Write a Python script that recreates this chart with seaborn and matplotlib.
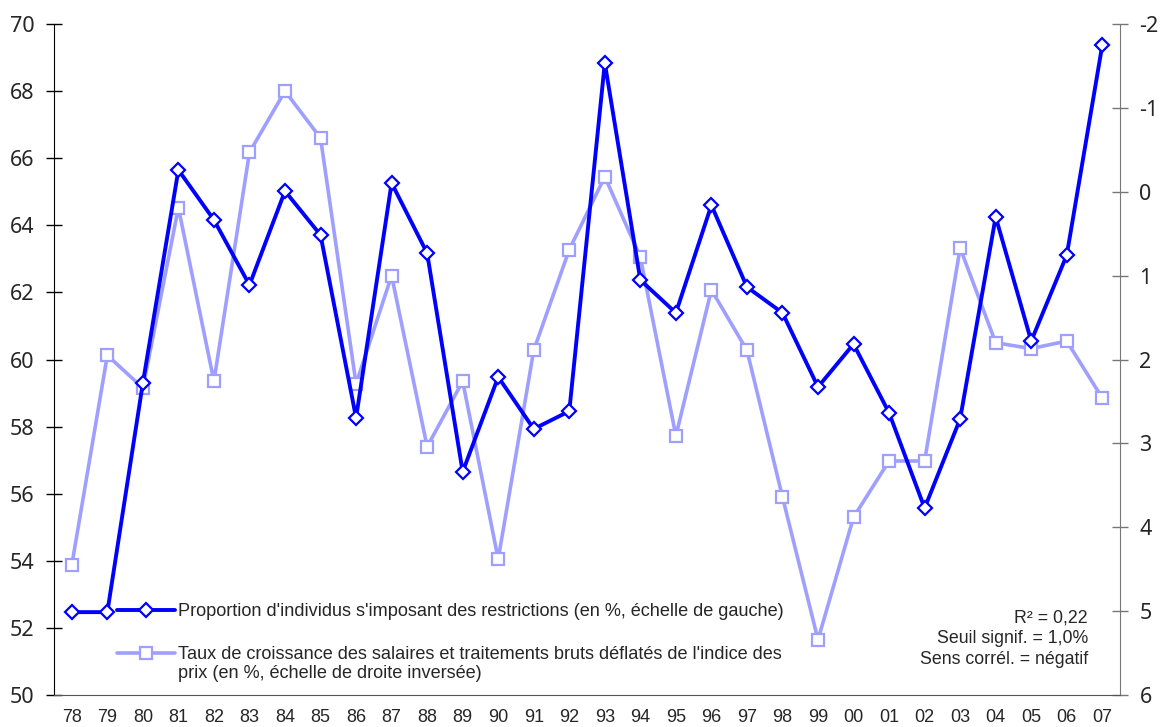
import numpy as np
import matplotlib
matplotlib.use("Agg")
import matplotlib.pyplot as plt
import seaborn as sns
from matplotlib.ticker import FixedLocator
from matplotlib.legend_handler import HandlerLine2D

sns.set_style("white")
plt.rcParams['font.family'] = ['Liberation Sans', 'DejaVu Sans']
plt.rcParams['axes.unicode_minus'] = False

# --- Data ---
years = ['78', '79', '80', '81', '82', '83', '84', '85', '86', '87',
         '88', '89', '90', '91', '92', '93', '94', '95', '96', '97',
         '98', '99', '00', '01', '02', '03', '04', '05', '06', '07']
restrictions = [52.47, 52.47, 59.3, 65.65, 64.16, 62.22, 65.02, 63.71, 58.26, 65.26,
                63.17, 56.65, 59.48, 57.93, 58.46, 68.84, 62.37, 61.39, 64.6, 62.16,
                61.39, 59.18, 60.46, 58.41, 55.57, 58.23, 64.25, 60.55, 63.11, 69.37]
salaires = [4.45, 1.95, 2.34, 0.19, 2.26, -0.47, -1.2, -0.64, 2.29, 1.0,
            3.04, 2.26, 4.38, 1.89, 0.69, -0.18, 0.78, 2.91, 1.17, 1.89,
            3.64, 5.34, 3.88, 3.21, 3.21, 0.67, 1.8, 1.87, 1.78, 2.46]

label_left = "Proportion d'individus s'imposant des restrictions (en %, échelle de gauche)"
label_right = ("Taux de croissance des salaires et traitements bruts déflatés de l'indice des\n"
               "prix (en %, échelle de droite inversée)")
stats_text = "R² = 0,22\nSeuil signif. = 1,0%\nSens corrél. = négatif"

dark = '#0000FF'
light = '#9F9FFF'
pos = np.arange(len(years))


# legend handle aligned with the first line of a two-line label
class HandlerFirstLine(HandlerLine2D):
    def __init__(self, shift=0, **kw):
        super().__init__(**kw)
        self.shift = shift

    def create_artists(self, legend, orig_handle, xdescent, ydescent,
                       width, height, fontsize, trans):
        artists = super().create_artists(legend, orig_handle, xdescent, ydescent,
                                         width, height, fontsize, trans)
        for a in artists:
            a.set_ydata(np.asarray(a.get_ydata()) + self.shift)
        return artists


fig = plt.figure(figsize=(11.62, 7.27), dpi=100)
ax = fig.add_axes([0.0465, 0.044, 0.9174, 0.923])
ax2 = ax.twinx()

sns.lineplot(x=pos, y=salaires, ax=ax2, color=light, linewidth=2.6,
             marker='s', markersize=9, markerfacecolor='white',
             markeredgecolor=light, markeredgewidth=1.6, label=label_right, legend=False)
sns.lineplot(x=pos, y=restrictions, ax=ax, color=dark, linewidth=2.8,
             marker='D', markersize=7.5, markerfacecolor='white',
             markeredgecolor=dark, markeredgewidth=1.6, label=label_left, legend=False)

ax.set_zorder(ax2.get_zorder() + 1)
ax.patch.set_visible(False)

ax.set_xlim(-0.5, len(years) - 0.5)
ax.set_ylim(50, 70)
ax.set_yticks(np.arange(50, 71, 2))
ax2.set_ylim(6, -2)
ax2.set_yticks(np.arange(-2, 7, 1))

ax.set_xticks(pos)
ax.set_xticklabels(years)
ax.xaxis.set_minor_locator(FixedLocator(np.arange(-0.5, len(years), 1)))
ax.tick_params(axis='x', which='major', length=0, pad=10, labelsize=13)
ax.tick_params(axis='x', which='minor', length=12, direction='inout', color='#333333', width=1)
ax.tick_params(axis='y', length=12, direction='inout', width=1, color='black', labelsize=15.5, pad=8)
ax2.tick_params(axis='y', length=12, direction='inout', width=1, color='#777777', labelsize=15.5, pad=8)
for lab in ax.get_yticklabels() + ax2.get_yticklabels():
    lab.set_family(['Noto Sans', 'DejaVu Sans'])

for a in (ax, ax2):
    a.spines['top'].set_visible(False)
    a.set_xlabel('')
    a.set_ylabel('')
ax.spines['left'].set_color('black')
ax.spines['bottom'].set_color('#555555')
ax.spines['right'].set_visible(False)
ax2.spines['left'].set_visible(False)
ax2.spines['bottom'].set_visible(False)
ax2.spines['right'].set_color('#777777')
ax.grid(False)
ax2.grid(False)

h1, l1 = ax.get_legend_handles_labels()
h2, l2 = ax2.get_legend_handles_labels()
leg = ax.legend(h1 + h2, l1 + l2, loc='lower left', bbox_to_anchor=(0.047, 0.0),
                frameon=False, fontsize=13.1, handlelength=3.2, handletextpad=0.15,
                labelspacing=1.4, borderaxespad=0.3,
                handler_map={h2[0]: HandlerFirstLine(shift=7.8)})

ax.text(0.97, 0.04, stats_text, transform=ax.transAxes, ha='right', va='bottom',
        fontsize=12.8, linespacing=1.3)

fig.savefig('out.png', dpi=100)
